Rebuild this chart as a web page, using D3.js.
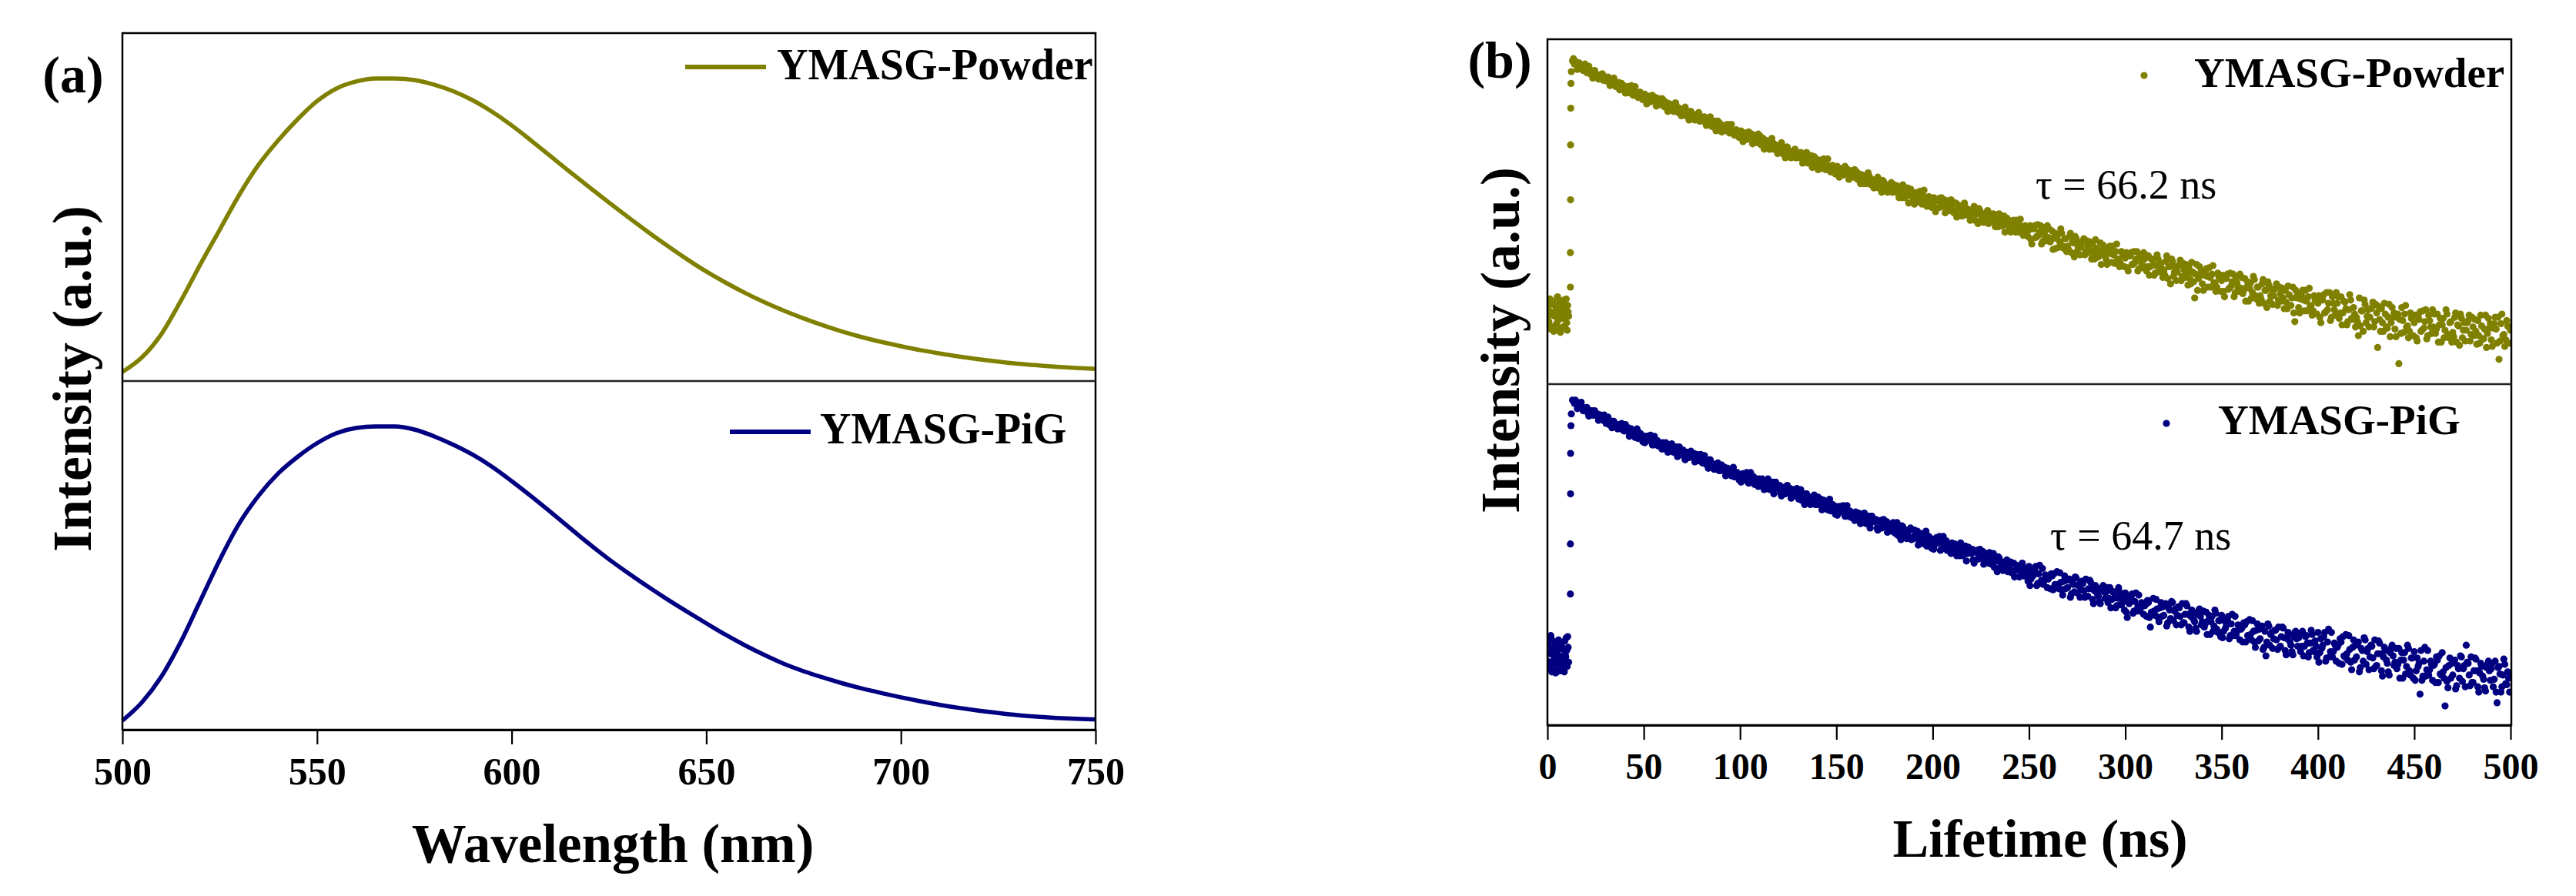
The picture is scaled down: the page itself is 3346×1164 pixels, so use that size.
<!DOCTYPE html>
<html>
<head>
<meta charset="utf-8">
<script src="https://cdn.jsdelivr.net/npm/d3@7"></script>
<style>
    body { margin: 0; background: #ffffff; }
    text { font-family: "Liberation Serif", "Times New Roman", serif; }
</style>
</head>
<body>
<svg id="chart"></svg>
<script>
// ---------- (a) photoluminescence spectra, normalised ----------
const wavelengthNm = [500, 505, 510, 515, 520, 525, 530, 535, 540, 545, 550, 555, 560, 565, 570, 575, 580, 585, 590, 595,
    600, 605, 610, 615, 620, 625, 630, 635, 640, 645, 650, 655, 660, 665, 670, 675, 680, 685, 690, 695,
    700, 705, 710, 715, 720, 725, 730, 735, 740, 745, 750];
const powderPL = [0.03, 0.078, 0.155, 0.265, 0.385, 0.50, 0.615, 0.715, 0.795, 0.865, 0.925, 0.967, 0.99, 1.00, 1.00, 0.995, 0.98, 0.958, 0.928, 0.89,
    0.845, 0.795, 0.743, 0.691, 0.64, 0.59, 0.541, 0.493, 0.447, 0.403, 0.362, 0.325, 0.291, 0.26, 0.232, 0.207, 0.184, 0.163, 0.145, 0.129,
    0.115, 0.102, 0.091, 0.081, 0.072, 0.064, 0.057, 0.052, 0.047, 0.043, 0.040];
const pigPL = [0.03, 0.09, 0.175, 0.29, 0.425, 0.56, 0.68, 0.772, 0.845, 0.90, 0.945, 0.978, 0.995, 1.00, 1.00, 0.99, 0.968, 0.94, 0.907, 0.867,
    0.82, 0.77, 0.718, 0.665, 0.612, 0.562, 0.516, 0.472, 0.43, 0.39, 0.351, 0.313, 0.278, 0.246, 0.217, 0.193, 0.172, 0.153, 0.136, 0.121,
    0.107, 0.094, 0.082, 0.072, 0.063, 0.055, 0.048, 0.043, 0.039, 0.036, 0.034];
const wavelengthTicks = [500, 550, 600, 650, 700, 750];

// ---------- (b) decay curves, log10 of photon counts ----------
// channels are 0.5 ns wide; whole-ns and half-ns channels are kept in separate arrays
const lifetimeTicks = [0, 50, 100, 150, 200, 250, 300, 350, 400, 450, 500];
// before the excitation pulse (0 .. 11 ns, every 0.5 ns, then the 0.25 ns offsets)
const powderPreLog = [1.12, 1.22, 1.05, 1.17, 1.27, 1.03, 1.14, 1.24, 1.00, 1.19, 1.30, 1.09, 1.15, 1.26, 1.02, 1.21, 1.11, 1.28, 1.04, 1.18, 1.07, 1.23, 1.13];
const powderPreLogOff = [1.20, 1.08, 1.29, 1.01, 1.16, 1.25, 0.99, 1.13, 1.22, 1.06, 1.31, 1.10, 1.19, 0.98, 1.27, 1.15, 1.03, 1.24, 1.12, 1.29, 1.00, 1.17];
const pigPreLog = [1.10, 1.26, 1.03, 1.19, 1.31, 1.08, 1.16, 1.02, 1.24, 1.12, 1.00, 1.21, 1.07, 1.15, 1.01, 1.23, 1.11, 1.04, 1.29, 1.14, 1.20, 1.33, 1.09];
const pigPreLogOff = [1.25, 1.05, 1.17, 1.34, 1.00, 1.22, 1.11, 1.28, 0.99, 1.19, 1.07, 1.30, 1.13, 1.02, 1.26, 1.09, 1.21, 1.00, 1.16, 1.32, 1.05, 1.23];
// rising edge
const powderRiseNs = [11.9, 11.9, 12.0, 12.0, 12.1, 12.2, 12.4];
const powderRiseLog = [1.40, 1.72, 2.21, 2.72, 3.06, 3.29, 3.40];
const pigRiseNs = [11.9, 11.9, 12.0, 12.0, 12.2, 12.4];
const pigRiseLog = [1.73, 2.20, 2.67, 3.05, 3.31, 3.42];
// decay, starting at 13 ns
const decayStartNs = 13;
const powderDecayLog = [
    3.50, 3.47, 3.49, 3.46, 3.46, 3.42, 3.43,
    3.41, 3.43, 3.38, 3.40, 3.40, 3.36, 3.37, 3.36, 3.36, 3.32,
    3.35, 3.31, 3.31, 3.32, 3.28, 3.30, 3.27, 3.30, 3.26, 3.26,
    3.23, 3.25, 3.26, 3.20, 3.22, 3.23, 3.19, 3.16, 3.21, 3.19,
    3.17, 3.14, 3.17, 3.17, 3.13, 3.13, 3.16, 3.10, 3.12, 3.09,
    3.09, 3.07, 3.11, 3.08, 3.04, 3.08, 3.05, 3.08, 3.02, 3.05,
    3.02, 3.04, 2.99, 3.02, 3.03, 2.98, 3.00, 2.98, 2.99, 2.94,
    2.98, 2.94, 2.94, 2.96, 2.91, 2.93, 2.90, 2.94, 2.90, 2.90,
    2.87, 2.89, 2.90, 2.85, 2.87, 2.87, 2.84, 2.81, 2.86, 2.84,
    2.82, 2.78, 2.83, 2.83, 2.78, 2.78, 2.82, 2.75, 2.78, 2.74,
    2.77, 2.72, 2.78, 2.73, 2.75, 2.68, 2.72, 2.74, 2.68, 2.69,
    2.67, 2.71, 2.64, 2.67, 2.70, 2.63, 2.66, 2.64, 2.66, 2.60,
    2.65, 2.60, 2.60, 2.63, 2.56, 2.60, 2.56, 2.62, 2.56, 2.57,
    2.53, 2.56, 2.58, 2.50, 2.53, 2.54, 2.50, 2.47, 2.53, 2.51,
    2.49, 2.45, 2.50, 2.50, 2.45, 2.45, 2.49, 2.42, 2.45, 2.42,
    2.43, 2.40, 2.45, 2.42, 2.36, 2.43, 2.39, 2.43, 2.35, 2.39,
    2.36, 2.40, 2.32, 2.36, 2.39, 2.31, 2.35, 2.32, 2.35, 2.28,
    2.35, 2.28, 2.29, 2.32, 2.23, 2.29, 2.24, 2.32, 2.25, 2.26,
    2.21, 2.25, 2.28, 2.19, 2.23, 2.25, 2.20, 2.15, 2.24, 2.21,
    2.20, 2.14, 2.21, 2.22, 2.15, 2.15, 2.21, 2.11, 2.16, 2.11,
    2.16, 2.09, 2.18, 2.11, 2.15, 2.06, 2.11, 2.14, 2.07, 2.08,
    2.07, 2.12, 2.02, 2.08, 2.13, 2.02, 2.08, 2.04, 2.08, 1.99,
    2.08, 2.01, 2.02, 2.06, 1.96, 2.03, 1.97, 2.06, 1.98, 2.00,
    1.94, 1.99, 2.02, 1.91, 1.96, 1.98, 1.93, 1.88, 1.97, 1.94,
    1.93, 1.84, 1.95, 1.97, 1.87, 1.88, 1.97, 1.82, 1.90, 1.83,
    1.86, 1.82, 1.92, 1.86, 1.76, 1.89, 1.82, 1.90, 1.76, 1.85,
    1.78, 1.87, 1.72, 1.81, 1.87, 1.73, 1.81, 1.77, 1.82, 1.70,
    1.83, 1.72, 1.74, 1.80, 1.66, 1.76, 1.68, 1.81, 1.70, 1.73,
    1.66, 1.72, 1.78, 1.63, 1.70, 1.73, 1.66, 1.59, 1.73, 1.70,
    1.67, 1.58, 1.70, 1.72, 1.61, 1.63, 1.73, 1.57, 1.66, 1.58,
    1.66, 1.55, 1.69, 1.59, 1.66, 1.51, 1.60, 1.66, 1.54, 1.57,
    1.55, 1.64, 1.48, 1.59, 1.66, 1.50, 1.59, 1.54, 1.60, 1.46,
    1.62, 1.49, 1.52, 1.58, 1.43, 1.54, 1.30, 1.61, 1.48, 1.52,
    1.43, 1.51, 1.57, 1.40, 1.49, 1.52, 1.44, 1.36, 1.53, 1.48,
    1.46, 1.36, 1.49, 1.52, 1.39, 1.41, 1.52, 1.35, 1.44, 1.36,
    1.39, 1.34, 1.48, 1.40, 1.27, 1.44, 1.35, 1.47, 1.29, 1.40,
    1.32, 1.43, 1.25, 1.37, 1.45, 1.27, 1.38, 1.32, 1.39, 1.23,
    1.40, 1.27, 1.30, 1.37, 1.20, 1.33, 1.23, 1.40, 1.08, 1.30,
    1.21, 1.29, 1.37, 1.18, 1.27, 1.31, 1.22, 1.14, 1.32, 1.28,
    1.25, 1.12, 1.30, 1.33, 1.17, 1.19, 1.35, 1.12, 1.25, 1.14,
    1.25, 1.11, 1.31, 1.16, 1.26, 1.05, 1.19, 1.28, 1.10, 1.15,
    1.12, 0.95, 1.04, 1.18, 1.28, 1.07, 1.19, 1.12, 1.21, 1.03,
    1.24, 0.84, 1.10, 1.20, 0.99, 1.15, 1.02, 1.24, 1.07, 1.12,
    1.01, 1.12, 0.69, 0.97, 1.09, 1.15, 1.03, 0.93, 1.16, 1.11,
    1.07, 0.93, 1.13, 1.17, 1.00, 1.02, 1.19, 0.95, 1.09, 0.97,
    1.03, 0.97, 1.15, 1.05, 0.89, 1.11, 1.00, 1.15, 0.93, 1.08,
    0.98, 1.12, 0.89, 1.04, 1.15, 0.93, 1.07, 1.00, 1.09, 0.90,
    1.12, 0.95, 0.99, 1.09, 0.88, 1.04, 0.92, 1.14, 0.97, 1.02,
    0.91, 1.02, 1.12, 0.88, 0.73, 1.06, 0.95, 0.85, 1.09, 1.03,
    1.00];
const powderDecayLogHalf = [
    3.52, 3.47, 3.42, 3.48, 3.45, 3.41, 3.47,
    3.39, 3.45, 3.41, 3.34, 3.41, 3.37, 3.33, 3.37, 3.38, 3.32,
    3.34, 3.35, 3.27, 3.29, 3.34, 3.26, 3.28, 3.23, 3.29, 3.27,
    3.20, 3.26, 3.24, 3.27, 3.18, 3.26, 3.19, 3.16, 3.20, 3.14,
    3.19, 3.10, 3.17, 3.12, 3.18, 3.14, 3.08, 3.15, 3.10, 3.15,
    3.13, 3.08, 3.03, 3.10, 3.07, 3.03, 3.11, 3.03, 3.06, 2.99,
    3.00, 3.07, 3.02, 2.95, 3.03, 2.99, 2.95, 3.00, 3.02, 2.95,
    2.97, 2.98, 2.90, 2.92, 2.98, 2.89, 2.92, 2.85, 2.94, 2.92,
    2.84, 2.90, 2.88, 2.91, 2.83, 2.91, 2.83, 2.81, 2.85, 2.79,
    2.85, 2.75, 2.82, 2.77, 2.84, 2.80, 2.73, 2.81, 2.76, 2.82,
    2.80, 2.73, 2.68, 2.76, 2.73, 2.68, 2.78, 2.68, 2.72, 2.64,
    2.65, 2.74, 2.68, 2.60, 2.70, 2.64, 2.60, 2.66, 2.68, 2.60,
    2.63, 2.65, 2.55, 2.58, 2.65, 2.55, 2.59, 2.51, 2.61, 2.59,
    2.49, 2.57, 2.55, 2.59, 2.49, 2.59, 2.50, 2.47, 2.52, 2.45,
    2.52, 2.42, 2.50, 2.44, 2.52, 2.47, 2.40, 2.48, 2.43, 2.49,
    2.47, 2.41, 2.36, 2.44, 2.41, 2.36, 2.46, 2.36, 2.40, 2.32,
    2.33, 2.42, 2.37, 2.28, 2.38, 2.33, 2.28, 2.35, 2.37, 2.29,
    2.32, 2.34, 2.23, 2.26, 2.35, 2.23, 2.27, 2.18, 2.31, 2.28,
    2.17, 2.27, 2.24, 2.29, 2.17, 2.30, 2.19, 2.16, 2.22, 2.14,
    2.23, 2.10, 2.20, 2.14, 2.23, 2.18, 2.09, 2.20, 2.14, 2.21,
    2.19, 2.11, 2.05, 2.16, 2.12, 2.06, 2.18, 2.07, 2.12, 2.02,
    2.04, 2.15, 2.09, 1.99, 2.11, 2.05, 2.00, 2.08, 2.11, 2.01,
    2.05, 2.08, 1.96, 1.99, 2.08, 1.97, 2.01, 1.91, 2.04, 2.02,
    1.91, 2.00, 1.97, 2.02, 1.91, 2.03, 1.93, 1.90, 1.95, 1.87,
    1.97, 1.80, 1.94, 1.86, 1.98, 1.91, 1.80, 1.95, 1.86, 1.97,
    1.94, 1.84, 1.75, 1.90, 1.85, 1.77, 1.94, 1.78, 1.85, 1.73,
    1.75, 1.90, 1.82, 1.68, 1.85, 1.77, 1.70, 1.82, 1.85, 1.73,
    1.78, 1.82, 1.66, 1.71, 1.84, 1.68, 1.74, 1.61, 1.79, 1.76,
    1.61, 1.75, 1.71, 1.78, 1.62, 1.80, 1.66, 1.62, 1.71, 1.59,
    1.72, 1.55, 1.69, 1.61, 1.73, 1.66, 1.55, 1.70, 1.62, 1.72,
    1.70, 1.59, 1.51, 1.66, 1.61, 1.53, 1.70, 1.55, 1.62, 1.49,
    1.51, 1.69, 1.59, 1.43, 1.64, 1.54, 1.46, 1.60, 1.65, 1.50,
    1.56, 1.61, 1.42, 1.48, 1.63, 1.45, 1.52, 1.37, 1.59, 1.55,
    1.37, 1.54, 1.50, 1.58, 1.40, 1.60, 1.44, 1.40, 1.50, 1.36,
    1.51, 1.31, 1.48, 1.38, 1.53, 1.45, 1.31, 1.49, 1.40, 1.52,
    1.49, 1.37, 1.27, 1.45, 1.39, 1.30, 1.50, 1.32, 1.40, 1.25,
    1.29, 1.47, 1.37, 1.21, 1.42, 1.32, 1.24, 1.38, 1.43, 1.28,
    1.34, 1.39, 1.20, 1.26, 1.41, 1.23, 1.30, 1.16, 1.37, 1.33,
    1.16, 1.32, 1.28, 1.37, 1.18, 1.39, 1.23, 1.18, 1.28, 1.15,
    1.32, 1.07, 1.28, 1.16, 1.35, 1.25, 1.09, 1.31, 1.19, 1.35,
    1.31, 1.16, 1.05, 1.27, 1.20, 1.08, 1.33, 1.11, 1.21, 1.03,
    1.08, 1.30, 1.18, 0.99, 1.24, 1.13, 1.03, 1.20, 1.26, 1.08,
    1.16, 1.22, 0.99, 1.07, 1.25, 1.03, 1.12, 0.94, 1.21, 1.16,
    0.94, 1.15, 1.10, 1.21, 0.98, 1.23, 1.04, 0.99, 1.11, 0.95,
    1.14, 0.90, 1.10, 0.99, 1.18, 1.08, 0.92, 1.14, 1.03, 1.19,
    1.15, 1.01, 0.89, 1.11, 1.05, 0.93, 1.19, 0.96, 1.07, 0.89,
    0.94, 1.16, 1.05, 0.86, 1.11, 1.00, 0.90, 1.07, 1.14, 0.96,
    1.03, 1.10, 0.87, 0.95, 1.14, 0.92, 1.01, 0.84, 1.11, 1.06,
    0.85, 1.06, 1.01, 1.12, 0.90, 1.15, 0.96, 0.91, 1.04, 0.88];
const pigDecayLog = [
    3.55, 3.52, 3.51, 3.52, 3.48, 3.49, 3.46,
    3.46, 3.43, 3.45, 3.45, 3.41, 3.41, 3.42, 3.38, 3.39, 3.36,
    3.35, 3.37, 3.32, 3.34, 3.35, 3.31, 3.32, 3.30, 3.31, 3.27,
    3.26, 3.28, 3.29, 3.23, 3.25, 3.26, 3.22, 3.19, 3.24, 3.22,
    3.21, 3.17, 3.21, 3.17, 3.19, 3.13, 3.16, 3.17, 3.13, 3.13,
    3.15, 3.11, 3.11, 3.12, 3.07, 3.10, 3.07, 3.11, 3.06, 3.07,
    3.06, 3.02, 3.06, 3.06, 3.02, 3.02, 3.05, 2.99, 3.01, 2.98,
    2.98, 3.00, 2.95, 2.97, 2.99, 2.93, 2.95, 2.93, 2.94, 2.89,
    2.89, 2.91, 2.92, 2.86, 2.88, 2.89, 2.86, 2.83, 2.87, 2.86,
    2.84, 2.81, 2.86, 2.83, 2.78, 2.83, 2.80, 2.83, 2.76, 2.80,
    2.81, 2.76, 2.76, 2.79, 2.72, 2.76, 2.72, 2.78, 2.72, 2.73,
    2.72, 2.68, 2.73, 2.73, 2.68, 2.68, 2.72, 2.65, 2.68, 2.65,
    2.65, 2.68, 2.61, 2.65, 2.67, 2.60, 2.64, 2.61, 2.63, 2.57,
    2.57, 2.60, 2.62, 2.54, 2.57, 2.58, 2.54, 2.51, 2.57, 2.55,
    2.55, 2.50, 2.55, 2.50, 2.53, 2.46, 2.49, 2.51, 2.45, 2.46,
    2.50, 2.44, 2.44, 2.47, 2.40, 2.44, 2.40, 2.46, 2.40, 2.42,
    2.41, 2.35, 2.41, 2.42, 2.36, 2.36, 2.41, 2.33, 2.37, 2.32,
    2.32, 2.37, 2.28, 2.33, 2.37, 2.28, 2.33, 2.29, 2.33, 2.24,
    2.25, 2.29, 2.32, 2.22, 2.26, 2.28, 2.23, 2.18, 2.27, 2.25,
    2.22, 2.19, 2.26, 2.21, 2.14, 2.23, 2.18, 2.23, 2.14, 2.19,
    2.21, 2.14, 2.15, 2.18, 2.09, 2.15, 2.10, 2.18, 2.11, 2.13,
    2.11, 2.05, 2.13, 2.14, 2.06, 2.07, 2.13, 2.02, 2.08, 2.02,
    2.03, 2.08, 1.98, 2.04, 2.08, 1.98, 2.03, 1.99, 2.03, 1.94,
    2.00, 1.93, 2.02, 1.95, 1.99, 1.89, 1.95, 1.98, 1.90, 1.92,
    1.99, 1.87, 1.90, 1.95, 1.81, 1.92, 1.83, 1.97, 1.86, 1.89,
    1.87, 1.78, 1.90, 1.92, 1.81, 1.82, 1.93, 1.77, 1.85, 1.78,
    1.79, 1.87, 1.73, 1.82, 1.89, 1.74, 1.82, 1.77, 1.83, 1.70,
    1.71, 1.78, 1.84, 1.68, 1.76, 1.79, 1.71, 1.64, 1.79, 1.75,
    1.75, 1.65, 1.79, 1.68, 1.75, 1.60, 1.69, 1.75, 1.63, 1.66,
    1.74, 1.51, 1.64, 1.70, 1.55, 1.66, 1.57, 1.72, 1.60, 1.63,
    1.62, 1.52, 1.65, 1.42, 1.56, 1.57, 1.68, 1.51, 1.60, 1.52,
    1.53, 1.64, 1.46, 1.58, 1.66, 1.48, 1.59, 1.53, 1.60, 1.44,
    1.46, 1.54, 1.62, 1.42, 1.52, 1.56, 1.47, 1.38, 1.57, 1.52,
    1.47, 1.42, 1.56, 1.48, 1.35, 1.52, 1.43, 1.55, 1.37, 1.48,
    1.53, 1.38, 1.41, 1.49, 1.31, 1.45, 1.34, 1.52, 1.38, 1.42,
    1.40, 1.28, 1.44, 1.47, 1.33, 1.35, 1.48, 1.28, 1.39, 1.29,
    1.31, 1.43, 1.23, 1.15, 1.45, 1.25, 1.37, 1.31, 1.39, 1.21,
    1.23, 1.33, 1.41, 1.20, 1.31, 1.35, 1.25, 1.16, 1.37, 1.31,
    1.32, 1.19, 1.38, 1.24, 1.34, 1.14, 1.27, 1.35, 1.19, 1.24,
    1.37, 1.18, 1.22, 1.33, 1.10, 1.28, 1.14, 1.37, 1.19, 1.25,
    1.23, 1.08, 1.28, 1.33, 1.14, 1.17, 1.34, 1.09, 1.23, 1.11,
    1.14, 1.28, 1.04, 1.20, 1.32, 1.07, 1.22, 1.14, 1.24, 1.03,
    1.05, 1.17, 1.27, 1.01, 1.14, 1.20, 1.08, 0.97, 1.22, 1.15,
    1.09, 1.03, 1.22, 1.11, 0.94, 1.18, 1.05, 1.22, 0.97, 1.13,
    1.19, 1.01, 1.05, 0.79, 0.92, 1.10, 0.96, 1.20, 1.02, 1.07,
    1.06, 0.90, 1.11, 1.15, 0.97, 1.00, 0.68, 0.91, 1.06, 0.94,
    0.97, 1.11, 0.87, 1.03, 1.15, 0.91, 1.06, 1.25, 1.08, 0.87,
    0.90, 1.01, 1.12, 0.86, 0.99, 1.05, 0.93, 0.82, 1.07, 1.01,
    1.03, 0.86, 1.10, 0.71, 1.05, 0.81, 0.97, 1.07, 0.88, 0.94,
    0.96];
const pigDecayLogHalf = [
    3.54, 3.55, 3.47, 3.49, 3.53, 3.45, 3.47,
    3.48, 3.40, 3.45, 3.41, 3.45, 3.41, 3.36, 3.41, 3.37, 3.41,
    3.33, 3.39, 3.35, 3.29, 3.35, 3.31, 3.28, 3.32, 3.33, 3.27,
    3.32, 3.26, 3.21, 3.28, 3.25, 3.20, 3.28, 3.20, 3.23, 3.16,
    3.15, 3.21, 3.19, 3.22, 3.13, 3.21, 3.14, 3.12, 3.15, 3.09,
    3.13, 3.15, 3.06, 3.08, 3.14, 3.06, 3.09, 3.02, 3.11, 3.08,
    3.08, 2.99, 3.06, 3.01, 3.07, 3.03, 2.97, 3.04, 2.99, 3.04,
    2.96, 3.03, 2.98, 2.91, 2.99, 2.94, 2.90, 2.95, 2.96, 2.89,
    2.94, 2.89, 2.84, 2.91, 2.88, 2.84, 2.92, 2.84, 2.87, 2.80,
    2.78, 2.86, 2.83, 2.87, 2.77, 2.87, 2.79, 2.76, 2.81, 2.74,
    2.79, 2.81, 2.71, 2.74, 2.81, 2.71, 2.75, 2.67, 2.78, 2.75,
    2.75, 2.65, 2.73, 2.67, 2.75, 2.70, 2.63, 2.71, 2.66, 2.72,
    2.62, 2.71, 2.66, 2.57, 2.67, 2.62, 2.57, 2.64, 2.66, 2.58,
    2.64, 2.57, 2.52, 2.61, 2.57, 2.52, 2.62, 2.52, 2.56, 2.48,
    2.47, 2.55, 2.52, 2.56, 2.46, 2.56, 2.47, 2.45, 2.49, 2.42,
    2.47, 2.49, 2.39, 2.42, 2.49, 2.39, 2.43, 2.35, 2.46, 2.43,
    2.43, 2.33, 2.41, 2.35, 2.43, 2.38, 2.31, 2.39, 2.34, 2.40,
    2.30, 2.40, 2.34, 2.24, 2.36, 2.30, 2.25, 2.33, 2.35, 2.26,
    2.33, 2.26, 2.19, 2.30, 2.26, 2.20, 2.32, 2.21, 2.26, 2.16,
    2.15, 2.25, 2.22, 2.27, 2.15, 2.27, 2.17, 2.14, 2.20, 2.11,
    2.18, 2.20, 2.09, 2.12, 2.21, 2.09, 2.14, 2.04, 2.17, 2.14,
    2.15, 2.02, 2.12, 2.06, 2.15, 2.09, 2.01, 2.11, 2.05, 2.12,
    2.01, 2.11, 2.05, 1.94, 2.07, 2.00, 1.95, 2.03, 2.05, 1.96,
    2.03, 1.95, 1.89, 2.00, 1.96, 1.90, 2.02, 1.90, 1.95, 1.85,
    1.81, 1.95, 1.91, 1.99, 1.83, 2.00, 1.86, 1.82, 1.91, 1.79,
    1.89, 1.92, 1.77, 1.82, 1.94, 1.78, 1.84, 1.72, 1.90, 1.86,
    1.87, 1.70, 1.84, 1.75, 1.88, 1.81, 1.70, 1.85, 1.76, 1.87,
    1.71, 1.86, 1.78, 1.64, 1.81, 1.73, 1.66, 1.77, 1.81, 1.69,
    1.79, 1.69, 1.60, 1.75, 1.70, 1.62, 1.79, 1.63, 1.70, 1.58,
    1.56, 1.70, 1.66, 1.73, 1.57, 1.74, 1.61, 1.57, 1.65, 1.54,
    1.63, 1.67, 1.51, 1.56, 1.69, 1.53, 1.59, 1.47, 1.65, 1.61,
    1.63, 1.43, 1.60, 1.50, 1.65, 1.57, 1.44, 1.61, 1.52, 1.64,
    1.46, 1.64, 1.54, 1.38, 1.58, 1.49, 1.41, 1.54, 1.59, 1.44,
    1.57, 1.45, 1.35, 1.53, 1.47, 1.38, 1.58, 1.40, 1.48, 1.33,
    1.32, 1.48, 1.44, 1.52, 1.34, 1.54, 1.38, 1.34, 1.44, 1.30,
    1.41, 1.46, 1.28, 1.34, 1.49, 1.30, 1.38, 1.23, 1.45, 1.40,
    1.41, 1.21, 1.38, 1.28, 1.43, 1.35, 1.22, 1.39, 1.30, 1.42,
    1.24, 1.42, 1.32, 1.16, 1.37, 1.28, 1.19, 1.33, 1.38, 1.24,
    1.36, 1.24, 1.15, 1.33, 1.27, 1.18, 1.39, 1.20, 1.29, 1.14,
    1.09, 1.31, 1.25, 1.37, 1.13, 1.40, 1.19, 1.14, 1.27, 1.10,
    1.25, 1.31, 1.07, 1.15, 1.35, 1.11, 1.21, 1.02, 1.30, 1.25,
    1.26, 1.00, 1.22, 1.10, 1.30, 1.19, 1.02, 1.25, 1.13, 1.30,
    1.06, 1.29, 1.17, 0.96, 1.23, 1.11, 1.00, 1.18, 1.25, 1.06,
    1.22, 1.07, 0.94, 1.18, 1.11, 0.98, 1.25, 1.01, 1.13, 0.94,
    0.92, 1.13, 1.08, 1.20, 0.96, 1.23, 1.02, 0.97, 1.10, 0.92,
    1.07, 1.14, 0.90, 0.98, 1.18, 0.94, 1.04, 0.85, 1.13, 1.08,
    1.09, 0.84, 1.06, 0.94, 1.14, 1.03, 0.86, 1.09, 0.97, 1.14,
    0.90, 1.13, 1.01, 0.81, 1.08, 0.96, 0.85, 1.04, 1.10, 0.92,
    1.08, 0.93, 0.81, 1.04, 0.98, 0.86, 1.12, 0.89, 1.00, 0.81];

const olive = '#808000';
const navy = '#000080';

const svg = d3.select('#chart')
    .attr('width', 3346)
    .attr('height', 1164);

svg.append('rect')
    .attr('width', 3346)
    .attr('height', 1164)
    .attr('fill', '#ffffff');

// ================= panel (a) =================
const a = { left: 159, right: 1423, top: 43, mid: 495, bottom: 948 };

const xA = d3.scaleLinear().domain([500, 750]).range([a.left, a.right]);
const yATop = d3.scaleLinear().domain([0, 1.15]).range([a.mid, a.top]);
const yABot = d3.scaleLinear().domain([0, 1.15]).range([a.bottom, a.mid]);

const specPowder = wavelengthNm.map((w, i) => ({ x: w, y: powderPL[i] }));
const specPig = wavelengthNm.map((w, i) => ({ x: w, y: pigPL[i] }));

svg.append('path')
    .datum(specPowder)
    .attr('fill', 'none')
    .attr('stroke', olive)
    .attr('stroke-width', 5.5)
    .attr('d', d3.line().curve(d3.curveMonotoneX).x(d => xA(d.x)).y(d => yATop(d.y)));

svg.append('path')
    .datum(specPig)
    .attr('fill', 'none')
    .attr('stroke', navy)
    .attr('stroke-width', 5.5)
    .attr('d', d3.line().curve(d3.curveMonotoneX).x(d => xA(d.x)).y(d => yABot(d.y)));

// ================= panel (b) =================
const b = { left: 2010, right: 3262, top: 51, mid: 499, bottom: 942 };

const xB = d3.scaleLinear().domain([0, 500]).range([b.left, b.right - 1]);
const yBTop = d3.scaleLinear().domain([0.5, 3.7]).range([b.mid, b.top]);
const yBBot = d3.scaleLinear().domain([0.5, 3.7]).range([b.bottom, b.mid]);

function decayPoints(preLog, preLogOff, riseNs, riseLog, decayLog, decayLogHalf) {
    let pts = [];
    preLog.forEach((v, i) => pts.push({ t: i * 0.5, v: v }));
    preLogOff.forEach((v, i) => pts.push({ t: 0.25 + i * 0.5, v: v }));
    riseNs.forEach((t, i) => pts.push({ t: t, v: riseLog[i] }));
    decayLog.forEach((v, i) => pts.push({ t: decayStartNs + i, v: v }));
    decayLogHalf.forEach((v, i) => pts.push({ t: decayStartNs + 0.5 + i, v: v }));
    return pts;
}

const powderDecay = decayPoints(powderPreLog, powderPreLogOff, powderRiseNs, powderRiseLog, powderDecayLog, powderDecayLogHalf);
const pigDecay = decayPoints(pigPreLog, pigPreLogOff, pigRiseNs, pigRiseLog, pigDecayLog, pigDecayLogHalf);

svg.append('clipPath')
    .attr('id', 'clipB')
    .append('rect')
    .attr('x', b.left)
    .attr('y', b.top)
    .attr('width', b.right - b.left)
    .attr('height', b.bottom - b.top);

const dotsB = svg.append('g').attr('clip-path', 'url(#clipB)');

dotsB.append('g')
    .selectAll('circle')
    .data(powderDecay)
    .join('circle')
    .attr('cx', d => xB(d.t))
    .attr('cy', d => yBTop(d.v))
    .attr('r', 4.6)
    .attr('fill', olive);

dotsB.append('g')
    .selectAll('circle')
    .data(pigDecay)
    .join('circle')
    .attr('cx', d => xB(d.t))
    .attr('cy', d => yBBot(d.v))
    .attr('r', 4.6)
    .attr('fill', navy);

// ================= frames & axes =================
[a, b].forEach(p => {
    svg.append('rect')
        .attr('x', p.left)
        .attr('y', p.top)
        .attr('width', p.right - p.left)
        .attr('height', p.bottom - p.top)
        .attr('fill', 'none')
        .attr('stroke', '#000')
        .attr('stroke-width', 2.5);
    svg.append('line')
        .attr('x1', p.left)
        .attr('x2', p.right)
        .attr('y1', p.mid)
        .attr('y2', p.mid)
        .attr('stroke', '#222')
        .attr('stroke-width', 2.5);
});

function styleAxis(g, fontSize) {
    g.select('.domain').attr('stroke-width', 3);
    g.selectAll('.tick line').attr('stroke-width', 2.2);
    g.selectAll('.tick text')
        .attr('font-size', fontSize)
        .attr('font-weight', 'bold')
        .attr('fill', '#000')
        .style('font-family', '"Liberation Serif", "Times New Roman", serif');
}

svg.append('g')
    .attr('transform', `translate(0,${a.bottom})`)
    .call(d3.axisBottom(xA).tickValues(wavelengthTicks).tickSize(19).tickSizeOuter(0).tickPadding(16))
    .call(g => styleAxis(g, 50));

svg.append('g')
    .attr('transform', `translate(0,${b.bottom})`)
    .call(d3.axisBottom(xB).tickValues(lifetimeTicks).tickSize(19).tickSizeOuter(0).tickPadding(17))
    .call(g => styleAxis(g, 48));

// ================= titles & labels =================
function label(x, y, txt, size, weight, anchor) {
    return svg.append('text')
        .attr('x', x)
        .attr('y', y)
        .attr('font-size', size)
        .attr('font-weight', weight)
        .attr('text-anchor', anchor)
        .attr('fill', '#000')
        .text(txt);
}

label(796, 1120, 'Wavelength (nm)', 71, 'bold', 'middle');
label(2650, 1113, 'Lifetime (ns)', 70, 'bold', 'middle');

svg.append('text')
    .attr('transform', 'translate(118,492) rotate(-90)')
    .attr('font-size', 72)
    .attr('font-weight', 'bold')
    .attr('text-anchor', 'middle')
    .text('Intensity (a.u.)');

svg.append('text')
    .attr('transform', 'translate(1973,442) rotate(-90)')
    .attr('font-size', 72)
    .attr('font-weight', 'bold')
    .attr('text-anchor', 'middle')
    .text('Intensity (a.u.)');

label(95, 120, '(a)', 68, 'bold', 'middle');
label(1948, 101, '(b)', 68, 'bold', 'middle');

// legends (a)
svg.append('line')
    .attr('x1', 890).attr('x2', 995)
    .attr('y1', 87).attr('y2', 87)
    .attr('stroke', olive).attr('stroke-width', 6);
label(1009, 103, 'YMASG-Powder', 56, 'bold', 'start');

svg.append('line')
    .attr('x1', 948).attr('x2', 1053)
    .attr('y1', 561).attr('y2', 561)
    .attr('stroke', navy).attr('stroke-width', 6);
label(1065, 576, 'YMASG-PiG', 56, 'bold', 'start');

// legends (b)
svg.append('circle').attr('cx', 2785).attr('cy', 98).attr('r', 4.6).attr('fill', olive);
label(2850, 113, 'YMASG-Powder', 55, 'bold', 'start');

svg.append('circle').attr('cx', 2814).attr('cy', 550).attr('r', 4.6).attr('fill', navy);
label(2881, 564, 'YMASG-PiG', 55, 'bold', 'start');

label(2644, 258, 'τ = 66.2 ns', 54, 'normal', 'start');
label(2663, 714, 'τ = 64.7 ns', 54, 'normal', 'start');
</script>
</body>
</html>
